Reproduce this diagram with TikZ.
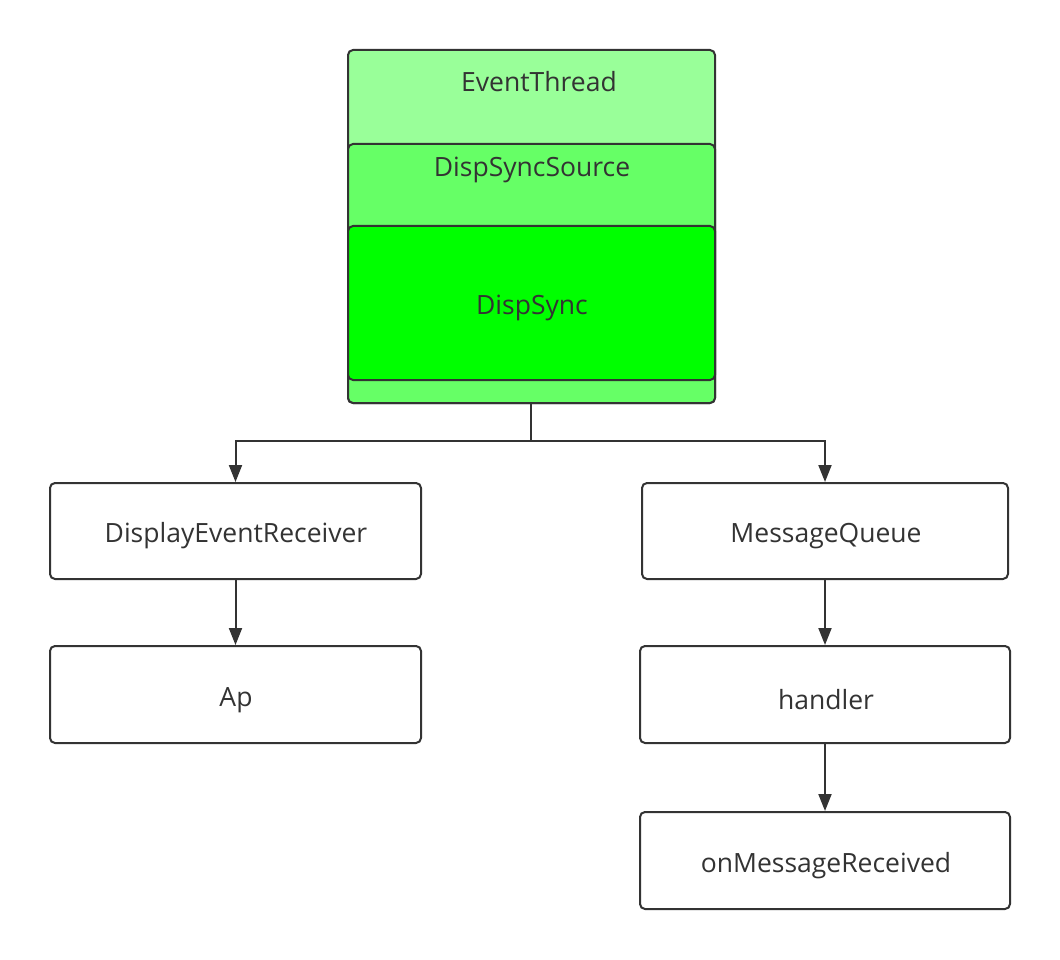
\documentclass[tikz,border=0pt]{standalone}
\usepackage{fontspec}
\setmainfont{Open Sans}
\usetikzlibrary{arrows.meta}
\definecolor{ink}{HTML}{333333}
\definecolor{gA}{HTML}{99FF99}
\definecolor{gB}{HTML}{66FF66}
\definecolor{gC}{HTML}{00FF00}
\tikzset{
  box/.style={draw=ink, line width=2pt, rounded corners=5pt, inner sep=0pt, text=ink},
  txt/.style={text=ink, inner sep=0pt, font=\fontsize{26.5}{32}\selectfont},
  conn/.style={draw=ink, line width=2pt, -{Triangle[length=17pt,width=13pt]}}
}
\begin{document}
\begin{tikzpicture}[x=1pt,y=-1pt]
\useasboundingbox (0,0) rectangle (1060,960);
% outer container
\node[box, fill=gA, minimum width=367pt, minimum height=353pt] (evt) at (531.5,226.5) {};
\node[txt] (evtlabel) at (539,82) {EventThread};
\node[box, fill=gB, minimum width=367pt, minimum height=259pt] (dss) at (531.5,273.5) {};
\node[txt] (dsslabel) at (532,170) {DispSyncSource};
\node[box, fill=gC, minimum width=367pt, minimum height=154pt] (ds) at (531.5,303) {};
\node[txt] (dslabel) at (532,308) {DispSync};
% lower boxes
\node[box, minimum width=371pt, minimum height=96pt] (der) at (235.5,531) {};
\node[txt] (derlabel) at (236,536) {DisplayEventReceiver};
\node[box, minimum width=371pt, minimum height=97pt] (ap) at (235.5,694.5) {};
\node[txt] (aplabel) at (236,700) {Ap};
\node[box, minimum width=366pt, minimum height=96pt] (mq) at (825,531) {};
\node[txt] (mqlabel) at (826,536) {MessageQueue};
\node[box, minimum width=370pt, minimum height=97pt] (hd) at (825,694.5) {};
\node[txt] (hdlabel) at (826,700) {handler};
\node[box, minimum width=370pt, minimum height=97pt] (omr) at (825,860.5) {};
\node[txt] (omrlabel) at (826,866) {onMessageReceived};
% connectors
\coordinate (split) at (531,441);
\draw[draw=ink, line width=2pt] (dss.south -| split) -- (split);
\draw[conn] (split) -| (der.north);
\draw[conn] (split) -| (mq.north);
\draw[conn] (der) -- (ap);
\draw[conn] (mq) -- (hd);
\draw[conn] (hd) -- (omr);
\end{tikzpicture}
\end{document}
